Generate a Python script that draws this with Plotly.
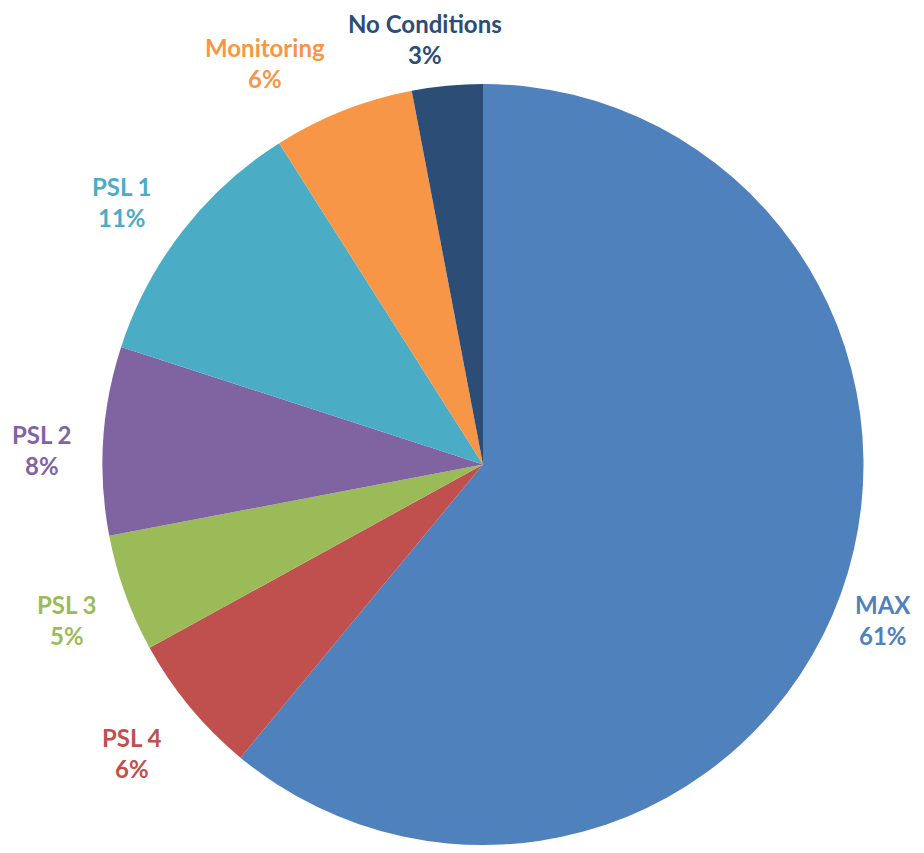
import math
import plotly.graph_objects as go

labels = ["MAX", "PSL 4", "PSL 3", "PSL 2", "PSL 1", "Monitoring", "No Conditions"]
values = [61, 6, 5, 8, 11, 6, 3]
colors = ["#4F81BD", "#C0504D", "#9BBB59", "#8064A2", "#4BACC6", "#F79646", "#2C4D75"]
# small per-label nudges (px) to mimic the original label placement
label_nudge = [(-16, 3), (-10, 4), (0, 3), (0, 11), (-11, 6), (-55, 7), (-16, 12)]

OFF = 8                            # page body margin in the browser
W, H = 924 - OFF, 853 - 2 * OFF    # figure size that avoids scrollbars
cx, cy, R = 483, 467, 383          # target pie center / radius in screen px

fig_cx = cx - OFF
fig_cy = cy - OFF
dom_x = [(fig_cx - R) / W, (fig_cx + R) / W]
dom_y = [0, min(1, (H - fig_cy + R) / H)]

fig = go.Figure(go.Pie(
    labels=labels, values=values, sort=False, direction="clockwise", rotation=0,
    marker=dict(colors=colors, line=dict(width=0)),
    textinfo="none", hoverinfo="label+percent",
    domain=dict(x=dom_x, y=dom_y),
))

total = sum(values)
cum = 0
annotations = []
for lab, v, c, (nx, ny) in zip(labels, values, colors, label_nudge):
    mid = (cum + v / 2) / total
    cum += v
    ang = math.radians(90 - 360 * mid)
    d = R * 1.155
    sx = cx + d * math.cos(ang) + nx
    sy = cy - d * math.sin(ang) + ny
    annotations.append(dict(
        x=(sx - OFF) / W, y=1 - (sy - OFF) / H, xref="paper", yref="paper",
        text=f"{lab}<br>{round(100 * v / total)}%", showarrow=False,
        font=dict(family="Lato", size=24, color=c, weight="bold"),
        xanchor="center", yanchor="middle", align="center",
    ))

fig.update_layout(
    width=W, height=H, margin=dict(l=0, r=0, t=0, b=0),
    paper_bgcolor="white", plot_bgcolor="white", showlegend=False,
    annotations=annotations,
)
fig.write_html("out.html")
